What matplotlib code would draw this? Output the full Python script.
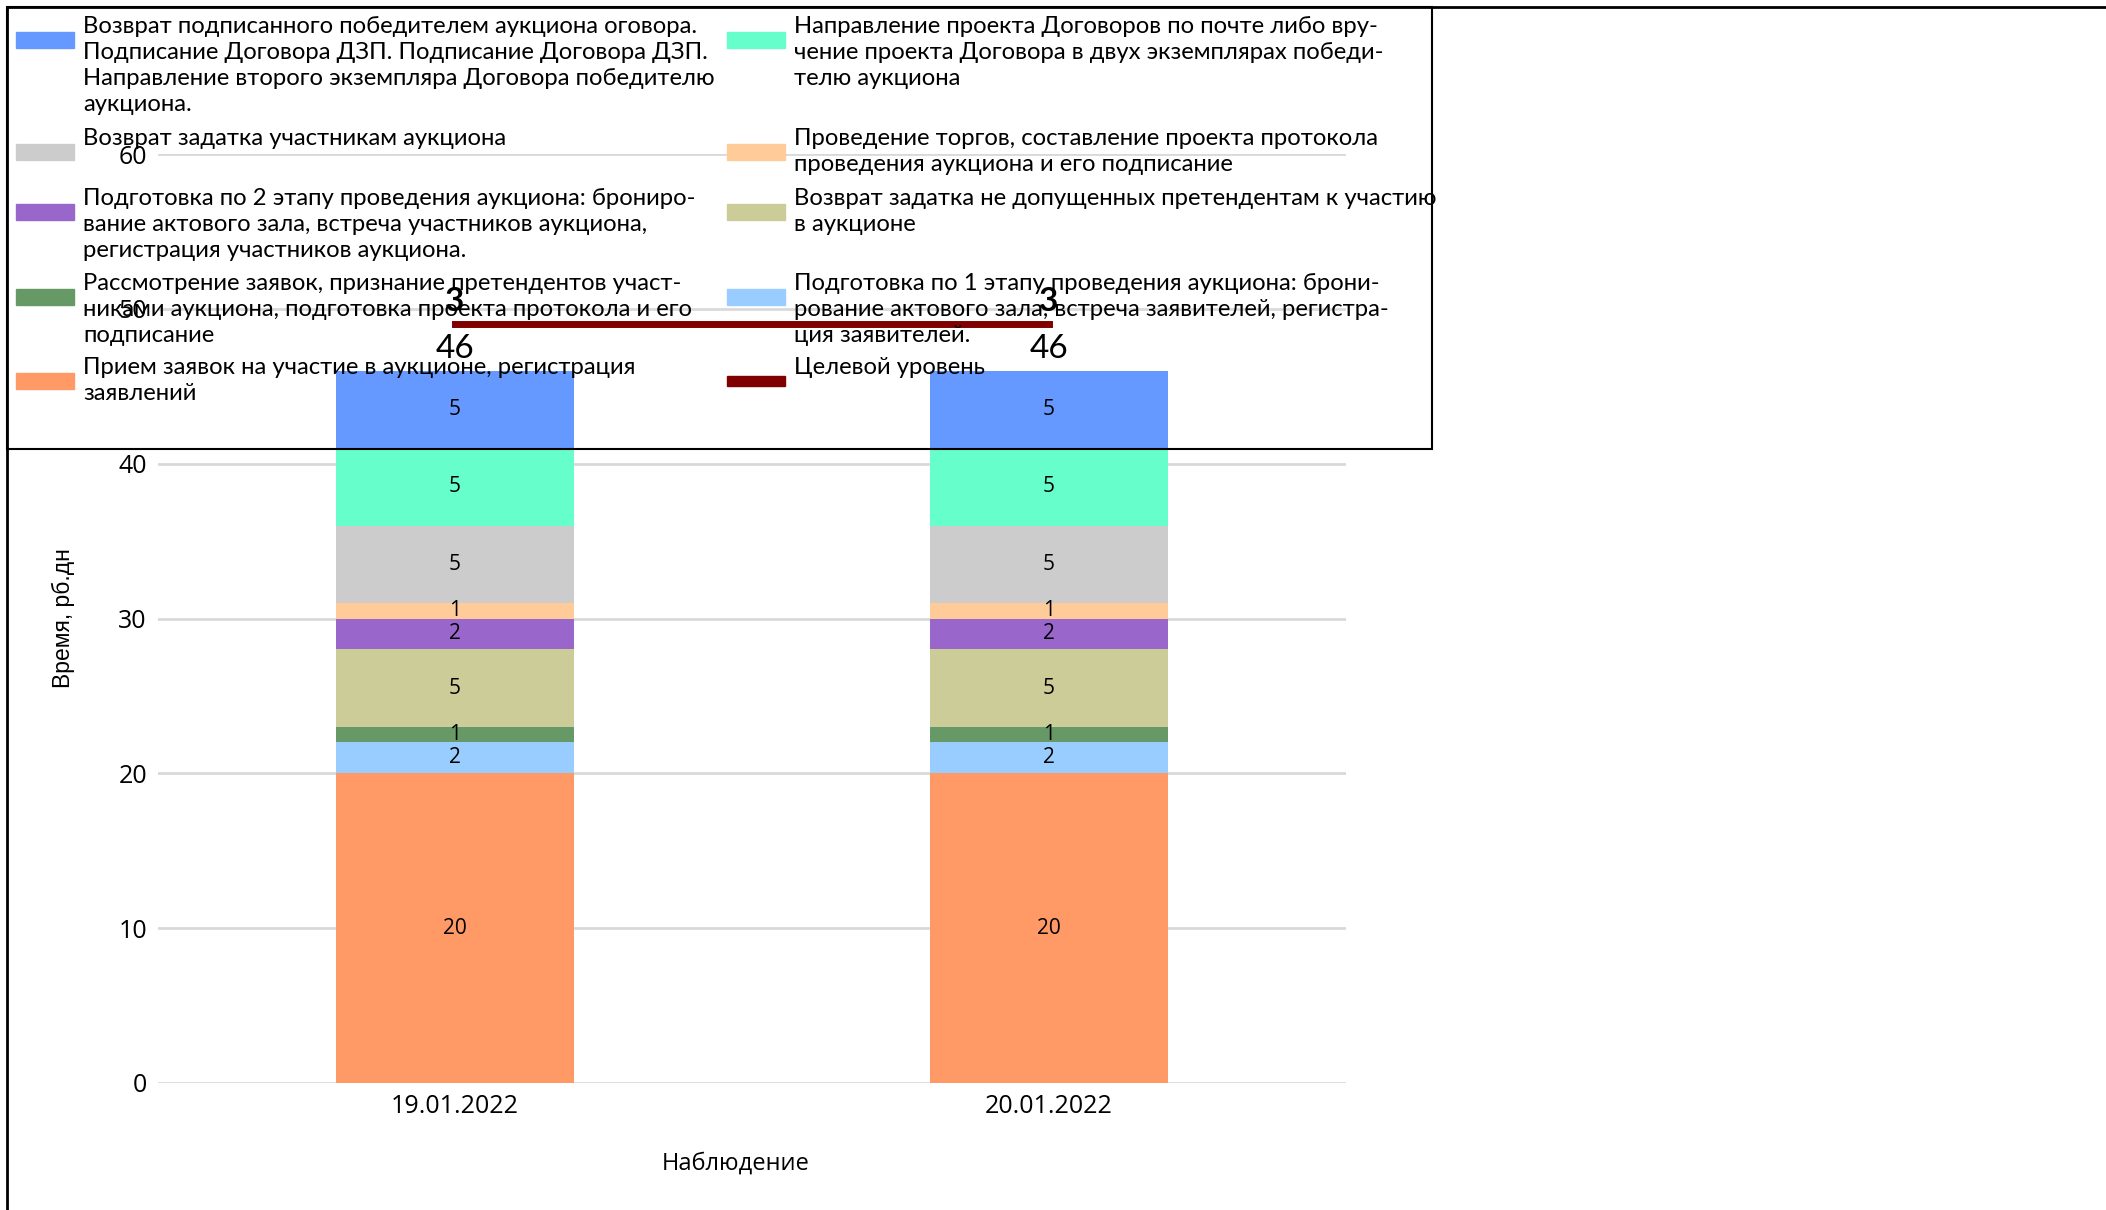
import numpy as np
import matplotlib
matplotlib.use("Agg")
import matplotlib.pyplot as plt
from matplotlib.patches import Rectangle
from matplotlib.lines import Line2D

W, H = 2106, 1210

dates = ["19.01.2022", "20.01.2022"]
# stack order, bottom to top
stages = [
    "Прием заявок на участие в аукционе, регистрация\nзаявлений",
    "Подготовка по 1 этапу проведения аукциона: брони-\nрование актового зала, встреча заявителей, регистра-\nция заявителей.",
    "Рассмотрение заявок, признание претендентов участ-\nниками аукциона, подготовка проекта протокола и его\nподписание",
    "Возврат задатка не допущенных претендентам к участию\nв аукционе",
    "Подготовка по 2 этапу проведения аукциона: брониро-\nвание актового зала, встреча участников аукциона,\nрегистрация участников аукциона.",
    "Проведение торгов, составление проекта протокола\nпроведения аукциона и его подписание",
    "Возврат задатка участникам аукциона",
    "Направление проекта Договоров по почте либо вру-\nчение проекта Договора в двух экземплярах победи-\nтелю аукциона",
    "Возврат подписанного победителем аукциона оговора.\nПодписание Договора ДЗП. Подписание Договора ДЗП.\nНаправление второго экземпляра Договора победителю\nаукциона.",
]
days = [
    [20, 20],
    [2, 2],
    [1, 1],
    [5, 5],
    [2, 2],
    [1, 1],
    [5, 5],
    [5, 5],
    [5, 5],
]
colors = ["#FF9966", "#99CCFF", "#669966", "#CCCC99", "#9966CC",
          "#FFCC99", "#CCCCCC", "#66FFCC", "#6699FF"]
target = [49, 49]
target_label = "Целевой уровень"
target_color = "#800000"

NARROW = ["Lato", "DejaVu Sans"]
TICKF = ["Open Sans", "DejaVu Sans"]

fig = plt.figure(figsize=(W / 100, H / 100), dpi=100)
ax = fig.add_axes([158 / W, 1 - 1083 / H, (1346 - 158) / W, (1083 - 154) / H])

x = np.arange(len(dates))
bottom = np.zeros(len(dates))
for vals, col in zip(days, colors):
    bars = ax.bar(x, vals, 0.4, bottom=bottom, color=col, zorder=2)
    ax.bar_label(bars, labels=[str(v) for v in vals], label_type="center",
                 fontsize=15, family=TICKF)
    bottom += vals

ax.plot(x, target, color=target_color, lw=5, zorder=3)
for xi, tot, tg in zip(x, bottom, target):
    ax.annotate(f"{int(tot)}", (xi, tot), xytext=(0, 5), textcoords="offset points",
                ha="center", va="bottom", fontsize=24, family=NARROW)
    ax.annotate(f"{int(tg - tot)}", (xi, tg), xytext=(0, 6), textcoords="offset points",
                ha="center", va="bottom", fontsize=24, family=NARROW, weight="bold")

ax.set_xlim(-0.5, 1.5)
ax.set_ylim(0, 60)
ax.set_yticks(range(0, 61, 10))
ax.set_xticks(x)
ax.set_xticklabels(dates)
ax.tick_params(length=0, labelsize=18, pad=8)
for lab in ax.get_xticklabels() + ax.get_yticklabels():
    lab.set_family(TICKF)
ax.grid(axis="y", color="#d9d9d9", lw=2, zorder=0)
for s in ax.spines.values():
    s.set_visible(False)
ax.set_ylabel("Время, рб.дн", fontsize=16.5, family=["Liberation Sans", "DejaVu Sans"])
ax.yaxis.set_label_coords(-0.07, 0.5)
ax.set_xlabel("Наблюдение", fontsize=17, family=TICKF)
ax.xaxis.set_label_coords(0.486, -0.074)

# figure border (top and left) and legend frame
fig.add_artist(Line2D([7 / W, 1], [1 - 7 / H, 1 - 7 / H], color="black", lw=2))
fig.add_artist(Line2D([7 / W, 7 / W], [0, 1 - 7 / H], color="black", lw=2))
fig.add_artist(Rectangle((7 / W, 1 - 449 / H), (1432 - 7) / W, (449 - 7) / H,
                         transform=fig.transFigure, fill=False, ec="black", lw=1.5))

# legend, two columns filled row by row in reverse stack order
entries = list(zip(stages[::-1], colors[::-1])) + [(target_label, None)]
row_tops = [13, 125, 185, 270, 354]
col_x = [(16, 83), (727, 794)]
for i, (lab, col) in enumerate(entries):
    r, c = divmod(i, 2)
    hx, tx = col_x[c]
    top = row_tops[r]
    hy = top + 27
    if col is None:
        fig.add_artist(Rectangle((hx / W, 1 - (hy + 5) / H), 58 / W, 10 / H,
                                 transform=fig.transFigure, color=target_color))
    else:
        fig.add_artist(Rectangle((hx / W, 1 - (hy + 8) / H), 58 / W, 16 / H,
                                 transform=fig.transFigure, color=col))
    fig.text(tx / W, 1 - (top + 3) / H, lab, ha="left", va="top", fontsize=17.2,
             family=NARROW, linespacing=1.3)

fig.savefig("out.png", dpi=100)
